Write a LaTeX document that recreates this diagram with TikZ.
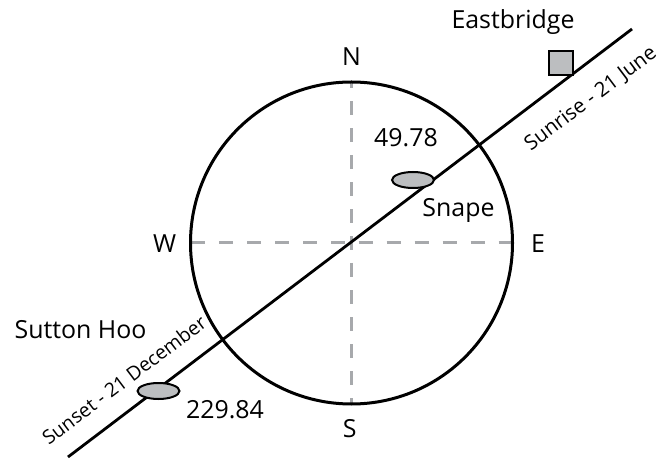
\documentclass[tikz,border=0pt]{standalone}
\usepackage{fontspec}
\setmainfont{Open Sans}
\usetikzlibrary{shapes.geometric}
\definecolor{dashgray}{HTML}{A7A9AC}
\definecolor{markgray}{HTML}{BCBEC0}
\tikzset{
  big/.style={font=\fontsize{25}{29}\selectfont, inner sep=0pt, anchor=base},
  small/.style={font=\fontsize{19.5}{23}\selectfont, inner sep=0pt, rotate=37},
  axisdash/.style={draw=dashgray, line width=3bp},
  sunline/.style={line width=2.8bp, line cap=butt},
  site/.style={ellipse, draw=black, fill=markgray, line width=2bp, minimum width=42bp, minimum height=16bp, inner sep=0pt},
  sitebox/.style={rectangle, draw=black, fill=markgray, line width=2bp, minimum size=24bp, inner sep=0pt}
}
\begin{document}
\begin{tikzpicture}[x=1bp,y=-1bp]
\useasboundingbox (0,0) rectangle (662,459);
\fill[white] (0,0) rectangle (662,459);
\coordinate (c) at (351.5,243);
\coordinate (top) at (351.5,82);
\coordinate (bot) at (351.5,404);
\coordinate (lft) at (190.5,243);
\coordinate (rgt) at (512.5,243);
% dashed axes
\draw[axisdash, dash pattern=on 14bp off 13bp, dash phase=7bp] (c) -- (top);
\draw[axisdash, dash pattern=on 14bp off 13bp, dash phase=7bp] (c) -- (bot);
\draw[axisdash, dash pattern=on 14bp off 14bp, dash phase=21bp] (c) -- (lft);
\draw[axisdash, dash pattern=on 14bp off 14bp, dash phase=21bp] (c) -- (rgt);
% circle
\draw[line width=3bp] (c) circle[radius=161];
% sun line
\coordinate (sw) at (68,457);
\coordinate (ne) at (632,29);
\draw[sunline] (sw) -- (ne);
% sites
\node[site] (snape) at (413,180) {};
\node[site] (sutton) at (158.5,391) {};
\node[sitebox] (east) at (560.5,63.5) {};
% labels
\node[big] (n) at (351.5,66) {N};
\node[big] (s) at (349.7,437) {S};
\node[big] (w) at (164.7,252.7) {W};
\node[big] (e) at (538,252.7) {E};
\node[big] (a1) at (406,147) {49.78};
\node[big] (snapelbl) at (458.5,217) {Snape};
\node[big] (a2) at (225,418) {229.84};
\node[big] (suttonlbl) at (80.5,338) {Sutton Hoo};
\node[big] (eastlbl) at (513,28.3) {Eastbridge};
\node[small] (sunset) at (124,380) {Sunset - 21 December};
\node[small, font=\fontsize{20.5}{24}\selectfont] (sunrise) at (591,99) {Sunrise - 21 June};
\end{tikzpicture}
\end{document}
